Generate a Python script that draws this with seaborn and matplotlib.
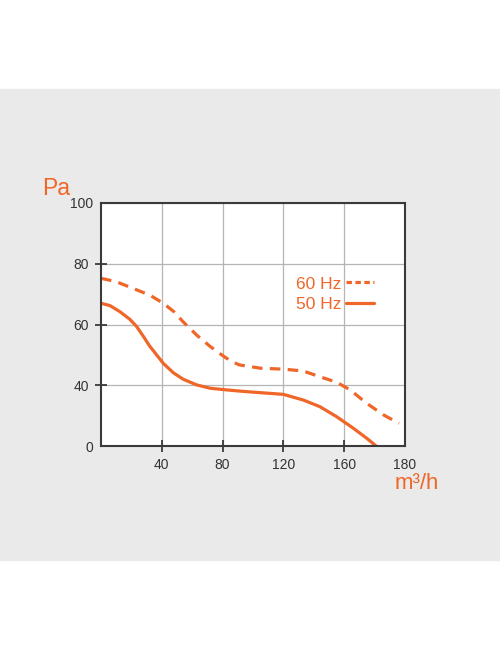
import numpy as np
import pandas as pd
import seaborn as sns
import matplotlib.pyplot as plt
from matplotlib.patches import Rectangle

# fan curve values
flow_60 = [0, 10, 21, 32, 41, 48, 54, 63, 72, 80.5, 86, 91, 105, 120, 133, 144, 155, 162, 167.4, 173, 178]
pa_60 = [75.2, 74.1, 71.9, 69.7, 67.0, 64.2, 60.9, 56.5, 52.7, 49.6, 47.8, 46.7, 45.6, 45.3, 44.7, 42.8,
         41.0, 36.9, 28.1, 20.4, 14.9]
flow_50 = [0, 6, 12.5, 19, 23.5, 28, 32, 36.6, 41, 47.6, 54, 63, 72, 83, 93, 105, 120, 133, 144, 155,
           163, 167.4, 170.5]
pa_50 = [67, 66.2, 64.2, 61.7, 59.3, 56, 52.9, 50, 47.2, 44.1, 42, 40.1, 38, 36.9, 36, 35.1, 34, 30.3,
         25.9, 19.3, 11.7, 5.1, 0]

x_ticks = [40, 80, 120, 160, 180]
y_ticks = [0, 40, 60, 80, 100]
labels = ['60 Hz', '50 Hz']

orange = '#EF6628'
dark = '#3a3a3a'

sns.set_style('white')
plt.rcParams['font.family'] = ['Liberation Sans', 'DejaVu Sans']


# the axes of the original are stretched: equal spacing between uneven ticks
def x_fwd(x):
    x = np.asarray(x, dtype=float)
    return np.where(x <= 160, x / 40, 4 + (x - 160) / 20)


def x_inv(p):
    p = np.asarray(p, dtype=float)
    return np.where(p <= 4, p * 40, 160 + (p - 4) * 20)


def y_fwd(y):
    y = np.asarray(y, dtype=float)
    return np.where(y <= 40, y / 40, 1 + (y - 40) / 20)


def y_inv(p):
    p = np.asarray(p, dtype=float)
    return np.where(p <= 1, p * 40, 40 + (p - 1) * 20)


fig = plt.figure(figsize=(5, 6.5), dpi=100)
fig.patches.append(Rectangle((0, 1 - 560 / 650), 1, (560 - 89) / 650,
                             transform=fig.transFigure, color='#EAEAEA', zorder=-5))
ax = fig.add_axes([101 / 500, 1 - 446 / 650, 304 / 500, 243 / 650])
ax.set_facecolor('white')

df60 = pd.DataFrame({'flow': flow_60, 'pa': pa_60})
df50 = pd.DataFrame({'flow': flow_50, 'pa': pa_50})
sns.lineplot(data=df60, x='flow', y='pa', ax=ax, color=orange, lw=2.3,
             linestyle=(0, (3.3, 2.3)), sort=False, label=labels[0])
sns.lineplot(data=df50, x='flow', y='pa', ax=ax, color=orange, lw=2.3,
             sort=False, label=labels[1])

ax.set_xscale('function', functions=(x_fwd, x_inv))
ax.set_yscale('function', functions=(y_fwd, y_inv))
ax.set_xlim(0, 180)
ax.set_ylim(0, 100)
ax.set_xticks(x_ticks)
ax.set_yticks(y_ticks)
ax.set_xticklabels([str(v) for v in x_ticks])
ax.set_yticklabels([str(v) for v in y_ticks])
ax.minorticks_off()
ax.set_xlabel('')
ax.set_ylabel('')

ax.grid(True, color='#b5b5b5', lw=0.9)
ax.tick_params(bottom=True, left=True, direction='inout', length=9, width=1.3,
               color=dark, labelcolor='#333333', labelsize=10, pad=4)
for s in ax.spines.values():
    s.set_color(dark)
    s.set_linewidth(1.5)
    s.set_visible(True)

# corner ticks have no tick mark, their labels sit closer
for i in [0, -1]:
    t = ax.yaxis.get_major_ticks()[i]
    t.tick1line.set_visible(False)
    t.set_pad(1)
ax.xaxis.get_major_ticks()[-1].tick1line.set_visible(False)

leg = ax.legend(loc='upper right', bbox_to_anchor=(0.898, 0.698), frameon=False,
                markerfirst=False, labelcolor=orange, fontsize=12.5,
                handlelength=1.6, handletextpad=0.3, labelspacing=0.33,
                borderaxespad=0, borderpad=0)
hl = leg.get_lines()
hl[0].set_linestyle((0, (1.7, 1.1)))

fig.text(41.7 / 500, 1 - 195 / 650, 'Pa', color=orange, fontsize=16.5,
         ha='left', va='baseline')
fig.text(395 / 500, 1 - 489 / 650, 'm³/h', color=orange, fontsize=16,
         ha='left', va='baseline')

fig.savefig('out.png', dpi=100, facecolor='white')
